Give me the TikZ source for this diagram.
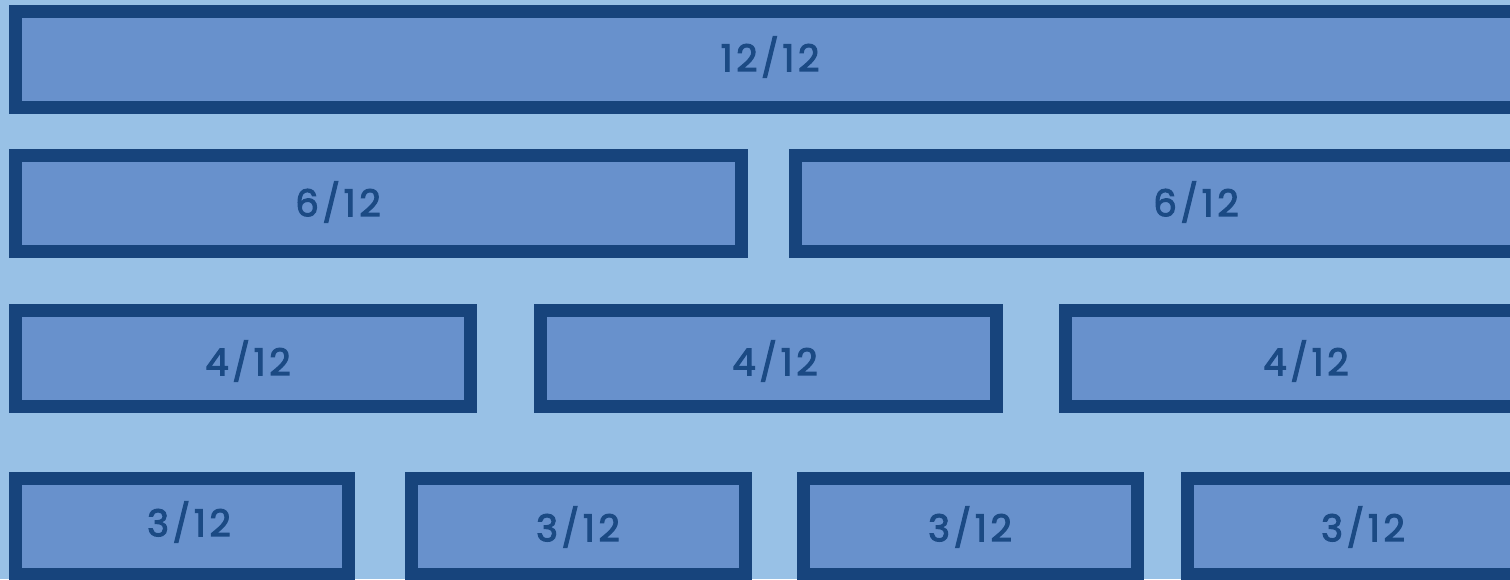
\documentclass[tikz,border=0pt]{standalone}
\usepackage{fontspec}
\setmainfont{Poppins}
\newfontfamily\lblfont{Poppins}[LetterSpace=10,FakeBold=3]
\definecolor{bgblue}{HTML}{98C1E6}
\definecolor{boxfill}{HTML}{6891CC}
\definecolor{boxline}{HTML}{17447C}
\definecolor{txtblue}{HTML}{1B4A84}
\tikzset{
  cell/.style={draw=boxline, fill=boxfill, line width=13pt, rectangle, inner sep=0pt, outer sep=0pt},
  lbl/.style={text=txtblue, font=\lblfont\fontsize{37}{37}\selectfont, inner sep=0pt}
}
\newcommand{\cellbox}[5]{%
  \node[cell, minimum width={(#3-#2-13)*1pt}, minimum height={(#5-#4-13)*1pt}, anchor=center] (#1) at ({(#2+#3)/2},{(#4+#5)/2}) {};}
\begin{document}
\begin{tikzpicture}[x=1pt,y=-1pt]
\useasboundingbox[fill=bgblue] (0,0) rectangle (1510,579);
\clip (0,0) rectangle (1510,579);
% row 1
\cellbox{a1}{9}{1528}{5}{114}
% row 2
\cellbox{b1}{9}{748}{149}{258}
\cellbox{b2}{789}{1528}{149}{258}
% row 3
\cellbox{c1}{9}{477}{304}{413}
\cellbox{c2}{534}{1003}{304}{413}
\cellbox{c3}{1059}{1528}{304}{413}
% row 4
\cellbox{d1}{9}{355}{472}{581}
\cellbox{d2}{405}{752}{472}{581}
\cellbox{d3}{797}{1144}{472}{581}
\cellbox{d4}{1181}{1528}{472}{581}
% labels
\node[lbl] (ta1) at (770,57) {12/12};
\node[lbl] (tb1) at (338,202) {6/12};
\node[lbl] (tb2) at (1196,202) {6/12};
\node[lbl] (tc1) at (248,361) {4/12};
\node[lbl] (tc2) at (775,361) {4/12};
\node[lbl] (tc3) at (1306,361) {4/12};
\node[lbl] (td1) at (189,522) {3/12};
\node[lbl] (td2) at (578,527) {3/12};
\node[lbl] (td3) at (970,527) {3/12};
\node[lbl] (td4) at (1363,527) {3/12};
\end{tikzpicture}
\end{document}
